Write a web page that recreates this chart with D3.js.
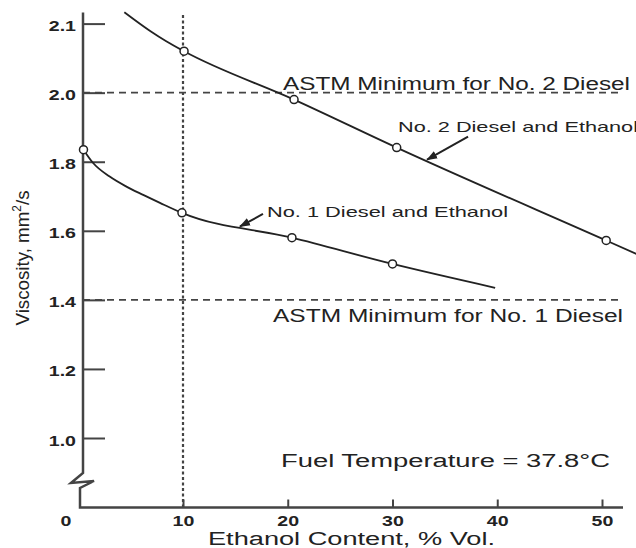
<!DOCTYPE html>
<html>
<head>
<meta charset="utf-8">
<script src="https://cdn.jsdelivr.net/npm/d3@7"></script>
<style>
  body { margin: 0; background: #fff; }
  svg { display: block; font-family: "Liberation Sans", Arial, sans-serif; }
</style>
</head>
<body>
<svg id="chart" width="636" height="548"></svg>
<script>
"use strict";

// ethanol content, % vol. (x) and viscosity, mm2/s (y)
var no1CurveX = [0.5, 1.4, 3.0, 4.6, 6.2, 7.8, 9.9, 20.4, 30.0, 39.8];
var no1CurveY = [1.835, 1.797, 1.757, 1.728, 1.704, 1.681, 1.652, 1.580, 1.504, 1.435];
var no2CurveX = [4.4, 6.9, 8.4, 10.1, 20.6, 30.4, 50.4, 53.3];
var no2CurveY = [2.233, 2.178, 2.149, 2.120, 1.980, 1.841, 1.572, 1.533];

// measured points (open circles)
var no1PointsX = [0.5, 9.9, 20.4, 30.0];
var no1PointsY = [1.835, 1.652, 1.580, 1.504];
var no2PointsX = [10.1, 20.6, 30.4, 50.4];
var no2PointsY = [2.120, 1.980, 1.841, 1.572];

// ASTM minimum viscosities and the 10 % reference line
var astmNo2 = 2.0;
var astmNo1 = 1.4;
var refEthanol = 10;

var xTickValues = [0, 10, 20, 30, 40, 50];
var xTickLabels = ["0", "10", "20", "30", "40", "50"];
var yTickValues = [1.0, 1.2, 1.4, 1.6, 1.8, 2.0, 2.2];
var yTickLabels = ["1.0", "1.2", "1.4", "1.6", "1.8", "2.0", "2.1"];

var ink = "#222", axisInk = "#444", guideInk = "#444";

var svg = d3.select("#chart");
svg.append("rect").attr("width", 636).attr("height", 548).attr("fill", "#fff");

var x = d3.scaleLinear().domain([0, 50]).range([78.25, 602]);
var y = d3.scaleLinear().domain([1.0, 2.2]).range([438, 23.6]);

var axisX = 83, baseY = 507.5;

function zip(a, b) {
	return a.map(function(d, i) { return [d, b[i]]; });
}

// guide lines
svg.append("line")
	.attr("x1", x(refEthanol)).attr("x2", x(refEthanol))
	.attr("y1", 15).attr("y2", baseY)
	.attr("stroke", guideInk).attr("stroke-width", 2.2)
	.attr("stroke-dasharray", "3,2.5");

[astmNo2, astmNo1].forEach(function(v) {
	svg.append("line")
		.attr("x1", axisX).attr("x2", 620)
		.attr("y1", y(v)).attr("y2", y(v))
		.attr("stroke", guideInk).attr("stroke-width", 1.7)
		.attr("stroke-dasharray", "7,5");
});

// y axis (ticks point inward, domain drawn by hand with the break)
var yAxis = d3.axisLeft(y)
	.tickValues(yTickValues)
	.tickSize(-22)
	.tickFormat(function(d, i) { return yTickLabels[i]; });

var gy = svg.append("g").attr("transform", "translate(" + axisX + ",0)").call(yAxis);
gy.select(".domain").remove();
gy.selectAll(".tick line").attr("stroke", axisInk).attr("stroke-width", 2);
gy.selectAll(".tick text")
	.attr("x", 0).attr("dy", null)
	.attr("transform", "translate(-7,7) scale(1.35,1)")
	.attr("fill", ink)
	.style("font-size", "14.5px").style("font-weight", "bold");

// x axis
var xAxis = d3.axisBottom(x)
	.tickValues(xTickValues)
	.tickSize(-8)
	.tickFormat(function(d, i) { return xTickLabels[i]; });

var gx = svg.append("g").attr("transform", "translate(0," + baseY + ")").call(xAxis);
gx.select(".domain").remove();
gx.selectAll(".tick line").attr("stroke", axisInk).attr("stroke-width", 2);
gx.selectAll(".tick text")
	.attr("y", 0).attr("dy", null)
	.attr("transform", function(d) {
		return "translate(" + (d === 0 ? -12.75 : 0) + ",18) scale(1.35,1)";
	})
	.attr("fill", ink)
	.style("font-size", "14.5px").style("font-weight", "bold");
gx.selectAll(".tick").filter(function(d) { return d === 0; }).select("line").remove();

// broken axis frame
svg.append("path")
	.attr("d", "M" + axisX + "," + (y(2.2) - 11) +
		"L" + axisX + ",473L71,483L94,481L80,488L80," + baseY +
		"L623," + baseY)
	.attr("fill", "none")
	.attr("stroke", axisInk).attr("stroke-width", 2.5)
	.attr("stroke-linejoin", "miter");

// curves
var line = d3.line()
	.x(function(d) { return x(d[0]); })
	.y(function(d) { return y(d[1]); })
	.curve(d3.curveMonotoneX);

[zip(no1CurveX, no1CurveY), zip(no2CurveX, no2CurveY)].forEach(function(c) {
	svg.append("path")
		.attr("d", line(c))
		.attr("fill", "none")
		.attr("stroke", ink).attr("stroke-width", 1.8);
});

svg.selectAll("circle.pt")
	.data(zip(no1PointsX, no1PointsY).concat(zip(no2PointsX, no2PointsY)))
	.enter()
	.append("circle")
	.attr("class", "pt")
	.attr("cx", function(d) { return x(d[0]); })
	.attr("cy", function(d) { return y(d[1]); })
	.attr("r", 4)
	.attr("fill", "#fff")
	.attr("stroke", ink).attr("stroke-width", 1.5);

// arrows pointing at the curves
svg.append("defs").append("marker")
	.attr("id", "head")
	.attr("markerUnits", "userSpaceOnUse")
	.attr("markerWidth", 12).attr("markerHeight", 10)
	.attr("viewBox", "0 -5 12 10")
	.attr("refX", 10).attr("refY", 0)
	.attr("orient", "auto")
	.append("path")
	.attr("d", "M0,-4L11,0L0,4Z")
	.attr("fill", ink);

var arrows = [
	{ tip: [15.44, 1.6125], dx: 23, dy: -12.5 },
	{ tip: [33.3, 1.806], dx: 41, dy: -23 }
];
arrows.forEach(function(a) {
	var tx = x(a.tip[0]), ty = y(a.tip[1]);
	svg.append("line")
		.attr("x1", tx + a.dx).attr("y1", ty + a.dy)
		.attr("x2", tx).attr("y2", ty)
		.attr("stroke", ink).attr("stroke-width", 2)
		.attr("marker-end", "url(#head)");
});

// text
function label(str, x0, y0, size, len) {
	svg.append("text")
		.attr("x", x0).attr("y", y0)
		.attr("textLength", len)
		.attr("lengthAdjust", "spacingAndGlyphs")
		.attr("fill", ink)
		.style("font-size", size + "px")
		.text(str);
}

label("ASTM Minimum for No. 2 Diesel", 283, 90, 18, 347);
label("No. 2 Diesel and Ethanol", 398, 132, 15, 240);
label("No. 1 Diesel and Ethanol", 267, 217, 15, 241);
label("ASTM Minimum for No. 1 Diesel", 273, 321.5, 18, 350);
label("Fuel Temperature = 37.8\u00b0C", 281, 467, 18, 329);
label("Ethanol Content, % Vol.", 208, 545, 18, 287);

var yt = svg.append("text")
	.attr("transform", "translate(29,258) rotate(-90)")
	.attr("text-anchor", "middle")
	.attr("textLength", 135)
	.attr("lengthAdjust", "spacingAndGlyphs")
	.attr("fill", ink)
	.style("font-size", "19px");
yt.append("tspan").text("Viscosity, mm");
yt.append("tspan").attr("dy", -8).style("font-size", "12px").text("2");
yt.append("tspan").attr("dy", 8).text("/s");
</script>
</body>
</html>
